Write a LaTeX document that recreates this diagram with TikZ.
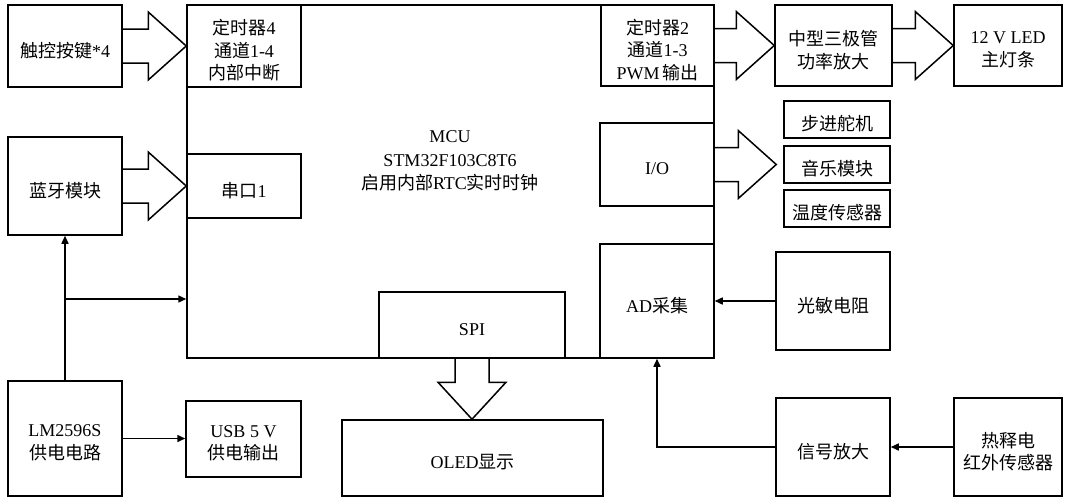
\documentclass[tikz,border=0pt]{standalone}
\usepackage{fontspec}
\setmainfont{Liberation Serif}
\newfontfamily\zhfont{Noto Sans CJK SC}
\newcommand\zh[1]{{\zhfont #1}}
\usetikzlibrary{arrows.meta,calc,fit}
\newcommand\hfat[2]{%
  \draw[fatline] ($(#1.east)+(0,-17)$) -- ($(#2)+(-38,-17)$) -- ($(#2)+(-38,-34)$) -- (#2)
    -- ($(#2)+(-38,34)$) -- ($(#2)+(-38,17)$) -- ($(#1.east)+(0,17)$);}
\newcommand\blk[4]{%
  \node[box, fit={#2 #3}] (#1) {};
  \node[txt] (#1-t) at ($(#1.center)+(0,4.5)$) {#4};}
\begin{document}
\begin{tikzpicture}[x=1pt,y=-1pt,
  box/.style={draw, line width=1.5pt, inner sep=0pt},
  txt/.style={align=center, inner sep=0pt, font=\fontsize{18}{22.5}\selectfont},
  fatline/.style={draw, line width=1.5pt, line join=miter},
  conn/.style={draw, line width=1.5pt, -{Triangle[length=8pt,width=7pt]}},
]
\useasboundingbox (0,0) rectangle (1069,498);
\node[box, fit={(187,5) (714,358)}] (mcu) {};
\node[txt, font=\fontsize{18}{23.5}\selectfont] (mcut) at (450,161)
  {MCU\\STM32F103C8T6\\\zh{启用内部}RTC\zh{实时时钟}};
\blk{touch}{(8,5)}{(122,87)}{\zh{触控按键}*4}
\blk{t4}{(187,5)}{(301,87)}{\zh{定时器}4\\\zh{通道}1-4\\\zh{内部中断}}
\blk{t2}{(601,5)}{(714,86)}{\zh{定时器}2\\\zh{通道}1-3\\PWM\,\zh{输出}}
\blk{amp}{(775,5)}{(892,86)}{\zh{中型三极管}\\\zh{功率放大}}
\blk{led}{(954,5)}{(1062,86)}{12 V LED\\\zh{主灯条}}
\blk{uart}{(187,154)}{(301,218)}{\zh{串口}1}
\blk{bt}{(8,137)}{(122,235)}{\zh{蓝牙模块}}
\blk{io}{(600,123)}{(714,206)}{I/O}
\blk{stepper}{(784,101)}{(890,138)}{\zh{步进舵机}}
\blk{music}{(784,146)}{(890,183)}{\zh{音乐模块}}
\blk{temp}{(784,190)}{(890,227)}{\zh{温度传感器}}
\blk{ad}{(600,244)}{(714,358)}{AD\zh{采集}}
\blk{ldr}{(776,252)}{(890,350)}{\zh{光敏电阻}}
\blk{spi}{(379,292)}{(565,358)}{SPI}
\blk{oled}{(342,420)}{(603,496)}{OLED\zh{显示}}
\blk{lm}{(8,381)}{(122,496)}{LM2596S\\\zh{供电电路}}
\blk{usb}{(186,401)}{(301,477)}{USB 5 V\\\zh{供电输出}}
\blk{sig}{(776,398)}{(890,496)}{\zh{信号放大}}
\blk{pir}{(954,398)}{(1062,496)}{\zh{热释电}\\\zh{红外传感器}}
% fat arrows
\coordinate (tipA) at (t4.west |- touch.east);
\coordinate (tipB) at (uart.west |- bt.east);
\coordinate (tipC) at (amp.west |- t2.east);
\coordinate (tipD) at (led.west |- amp.east);
\coordinate (tipE) at ($(music.west |- io.east)+(-7,0)$);
\hfat{touch}{tipA}
\hfat{bt}{tipB}
\hfat{t2}{tipC}
\hfat{amp}{tipD}
\hfat{io}{tipE}
\coordinate (tipS) at (oled.north -| spi.south);
\draw[fatline] ($(spi.south)+(-17,0)$) -- ($(tipS)+(-17,-37)$) -- ($(tipS)+(-34,-37)$) -- (tipS)
  -- ($(tipS)+(34,-37)$) -- ($(tipS)+(17,-37)$) -- ($(spi.south)+(17,0)$);
% thin arrows
\coordinate (br) at (65,299);
\draw[conn] (lm.north) -- (bt.south);
\draw[conn] (br) -- (br -| mcu.west);
\draw[conn] (lm.east) -- (lm.east -| usb.west);
\draw[conn] (ldr.west) -- (ldr.west -| ad.east);
\draw[conn] (pir.west) -- (pir.west -| sig.east);
\draw[conn] (sig.west) -| (ad.south);
\end{tikzpicture}
\end{document}
